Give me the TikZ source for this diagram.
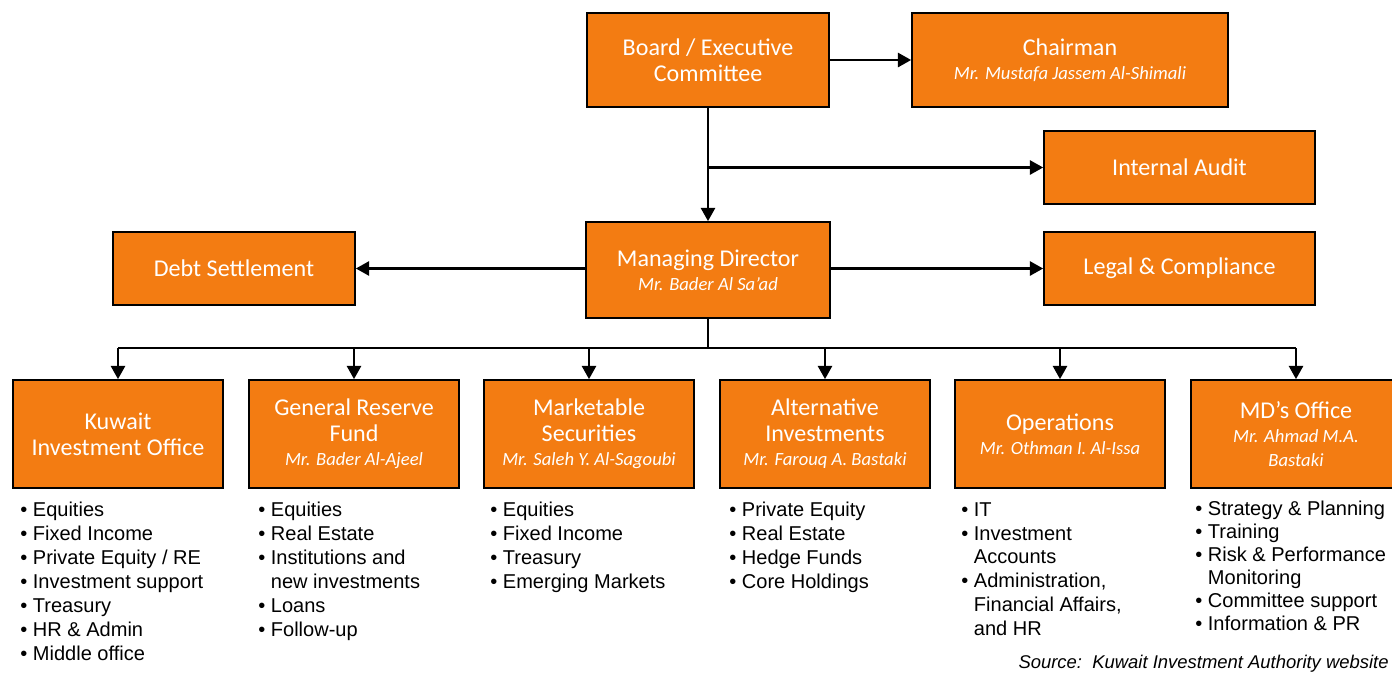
\documentclass[tikz,border=0pt]{standalone}
\usepackage{fontspec}
\setmainfont{Carlito}
\newfontfamily\listfont{Liberation Sans}
\usetikzlibrary{arrows.meta,positioning}
\definecolor{kiaorange}{RGB}{243,124,18}

\tikzset{
  unit/.style={draw=black, line width=1pt, fill=kiaorange, text=white, align=center,
    inner sep=0pt, font=\fontsize{13.7}{14.8}\selectfont},
  dept/.style={unit, minimum width=4.2cm, minimum height=2.16cm},
  arr/.style={line width=1.3pt, -{Triangle[width=8pt,length=7.5pt]}},
  link/.style={line width=1.3pt},
  tasks/.style={anchor=north west, align=left, inner sep=0pt,
    font=\listfont\fontsize{11.4}{13.6}\selectfont},
}
\newcommand{\who}[1]{\\[-1pt]{\fontsize{10.6}{11}\selectfont\itshape #1}}
\newcommand{\cont}{\hphantom{\textbullet\ }}

\begin{document}
\begin{tikzpicture}[x=0.02cm,y=-0.02cm]
\useasboundingbox (0,0) rectangle (1392,673);

% top level
\node[unit, minimum width=4.84cm, minimum height=1.88cm] (board) at (708,60) {Board / Executive\\Committee};
\node[unit, minimum width=6.32cm, minimum height=1.88cm] (chair) at (1070,60) {Chairman\who{Mr. Mustafa Jassem Al-Shimali}};
\node[unit, minimum width=5.42cm, minimum height=1.46cm] (audit) at (1179.5,167.5) {Internal Audit};
\node[unit, minimum width=4.88cm, minimum height=1.92cm] (md) at (708,270) {Managing Director\who{Mr. Bader Al Sa’ad}};
\node[unit, minimum width=4.84cm, minimum height=1.46cm] (debt) at (234,268.5) {Debt Settlement};
\node[unit, minimum width=5.42cm, minimum height=1.46cm] (legal) at (1179.5,268.5) {Legal \& Compliance};

% departments
\node[dept] (kio) at (118,434) {Kuwait\\Investment Office};
\node[dept] (grf) at (354,434) {General Reserve\\Fund\who{Mr. Bader Al-Ajeel}};
\node[dept] (ms) at (589,434) {Marketable\\Securities\who{Mr. Saleh Y. Al-Sagoubi}};
\node[dept] (ai) at (825,434) {Alternative\\Investments\who{Mr. Farouq A. Bastaki}};
\node[dept] (ops) at (1060,434) {Operations\who{Mr. Othman I. Al-Issa}};
\node[dept] (mdo) at (1296,434) {MD’s Office\who{Mr. Ahmad M.A.}\\[-1pt]{\fontsize{10.6}{11}\selectfont\itshape Bastaki}};

% connectors
\draw[arr] (board) -- (chair);
\draw[arr] (board) -- (md);
\draw[arr] (board.south |- audit) -- (audit.west);
\draw[arr] (md.west |- debt) -- (debt.east);
\draw[arr] (md.east |- legal) -- (legal.west);
\coordinate (bus) at (708,348);
\draw[link] (md.south) -- (bus);
\draw[link] (bus -| kio) -- (bus -| mdo);
\foreach \d in {kio,grf,ms,ai,ops,mdo}
  \draw[arr] (bus -| \d) -- (\d.north);

% task lists
\node[tasks] (kiolist) at (20,502) {\textbullet\ Equities\\\textbullet\ Fixed Income\\\textbullet\ Private Equity / RE\\\textbullet\ Investment support\\\textbullet\ Treasury\\\textbullet\ HR \& Admin\\\textbullet\ Middle office};
\node[tasks] (grflist) at (258,502) {\textbullet\ Equities\\\textbullet\ Real Estate\\\textbullet\ Institutions and\\\cont new investments\\\textbullet\ Loans\\\textbullet\ Follow-up};
\node[tasks] (mslist) at (490,502) {\textbullet\ Equities\\\textbullet\ Fixed Income\\\textbullet\ Treasury\\\textbullet\ Emerging Markets};
\node[tasks] (ailist) at (729,502) {\textbullet\ Private Equity\\\textbullet\ Real Estate\\\textbullet\ Hedge Funds\\\textbullet\ Core Holdings};
\node[tasks] (opslist) at (961,502) {\textbullet\ IT\\\textbullet\ Investment\\\cont Accounts\\\textbullet\ Administration,\\\cont Financial Affairs,\\\cont and HR};
\node[tasks, font=\listfont\fontsize{11.4}{13}\selectfont] (mdolist) at (1195,501) {\textbullet\ Strategy \& Planning\\\textbullet\ Training\\\textbullet\ Risk \& Performance\\\cont Monitoring\\\textbullet\ Committee support\\\textbullet\ Information \& PR};

\node[anchor=east, inner sep=0pt, font=\listfont\fontsize{10.5}{11}\selectfont\itshape] (source) at (1389,664) {Source:\ \ Kuwait Investment Authority website};
\end{tikzpicture}
\end{document}
